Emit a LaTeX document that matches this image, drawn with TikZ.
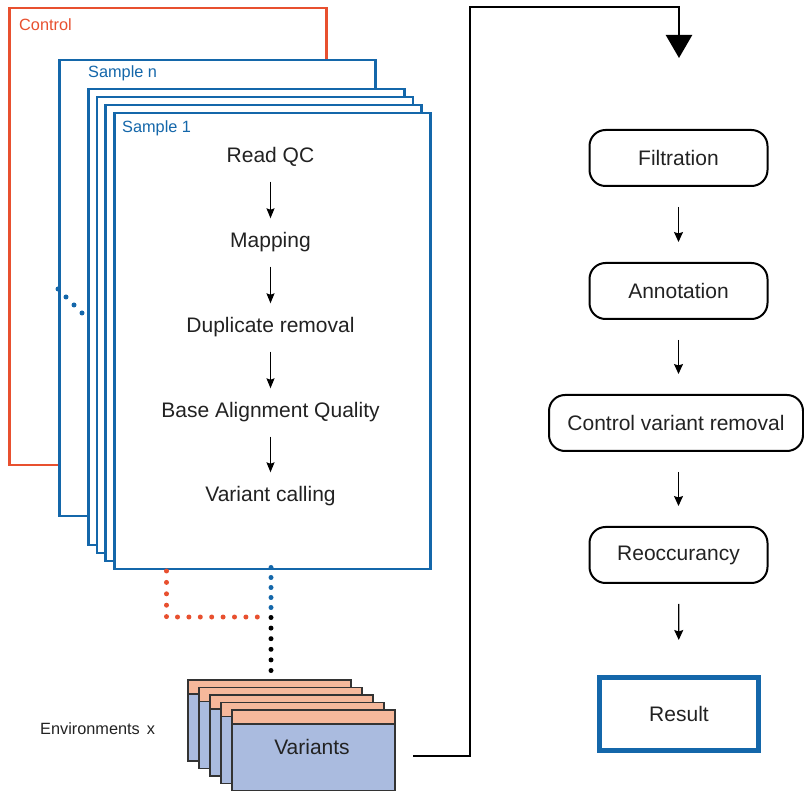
\documentclass[tikz,border=0pt]{standalone}
\usepackage{fontspec}
\setmainfont{Liberation Sans}
\usetikzlibrary{arrows.meta}
\definecolor{sblue}{HTML}{1467AA}
\definecolor{cred}{HTML}{E8502F}
\definecolor{salmon}{HTML}{F6B89B}
\definecolor{lav}{HTML}{AABBDF}
\definecolor{txt}{HTML}{222222}
\tikzset{
  bigfont/.style={font=\fontsize{21}{24}\selectfont, text=txt},
  smallfont/.style={font=\fontsize{16.3}{19}\selectfont},
  samplebox/.style={draw=sblue, line width=2.5pt, fill=white, minimum width=316pt, minimum height=456pt, anchor=north west, inner sep=0pt},
  controlbox/.style={draw=cred, line width=2.5pt, fill=white, minimum width=317pt, minimum height=457pt, anchor=north west, inner sep=0pt},
  steptext/.style={bigfont, inner sep=0pt, text height=15pt, text depth=4pt},
  smallarrow/.style={-{Stealth[width=8pt,length=10pt,inset=1.5pt]}, line width=1.3pt, black, shorten <=15pt, shorten >=14pt},
  flowbox/.style={bigfont, draw=black, line width=2pt, rounded corners=16pt, minimum width=178pt, minimum height=56pt, inner sep=0pt},
  flowarrow/.style={-{Stealth[width=9pt,length=10pt,inset=1.5pt]}, line width=1.3pt, black, shorten <=20pt, shorten >=20pt},
  varhead/.style={draw=black!80, line width=1.5pt, fill=salmon, minimum width=163pt, minimum height=14pt, anchor=north west, inner sep=0pt},
  varbody/.style={draw=black!80, line width=1.5pt, fill=lav, minimum width=163pt, minimum height=67pt, anchor=north west, inner sep=0pt},
  dotline/.style={line width=5pt, line cap=round, dash pattern=on 0pt off #1},
  conn/.style={line width=2.5pt, black},
}
\begin{document}
\begin{tikzpicture}[x=1pt,y=-1pt]
\useasboundingbox (0,0) rectangle (804,791);
% control and sample stack
\node[controlbox] (control) at (8,7) {};
\node[text=cred, smallfont, anchor=west, inner sep=0pt] (controllbl) at (19,25) {Control};
\node[samplebox] (samplen) at (58,59) {};
\node[text=sblue, smallfont, anchor=west, inner sep=0pt] (samplenlbl) at (88,73) {Sample n};
\foreach \i/\x/\y in {1/87/88, 2/95.5/96, 3/104/104}
  \node[samplebox] (sm\i) at (\x,\y) {};
\node[samplebox] (sample1) at (113,112) {};
\node[text=sblue, smallfont, anchor=west, inner sep=0pt] (sample1lbl) at (122,128) {Sample 1};
% dots between sample n and the others
\foreach \k in {0,1,2,3}
  \fill[sblue] (58+8*\k,289+8*\k) circle (2.5pt);
% steps
\node[steptext] (rqc) at (270.5,157) {Read QC};
\node[steptext] (map) at (270.5,242) {Mapping};
\node[steptext] (dup) at (270.5,327) {Duplicate removal};
\node[steptext] (baq) at (270.5,412) {Base Alignment Quality};
\node[steptext] (vc) at (270.5,496) {Variant calling};
\draw[smallarrow] (rqc) -- (map);
\draw[smallarrow] (map) -- (dup);
\draw[smallarrow] (dup) -- (baq);
\draw[smallarrow] (baq) -- (vc);
% dotted connectors
\coordinate (rs) at (166.5,571);
\coordinate (re) at (260,617);
\coordinate (bs) at (271,567.5);
\coordinate (be) at (271,608);
\coordinate (ks) at (271,617.5);
\coordinate (ke) at (271,671);
\draw[cred, dotline=11.4pt] (rs) |- (re);
\draw[sblue, dotline=10pt] (bs) -- (be);
\draw[black, dotline=10.6pt] (ks) -- (ke);
% variants stack
\foreach \k in {0,1,2,3,4} {
  \node[varbody] (vb\k) at (187+11*\k,693+7.5*\k) {};
  \node[varhead] (vh\k) at (187+11*\k,679+7.5*\k) {};
}
\node[bigfont, inner sep=0pt] (vtext) at (312,747) {Variants};
\node[smallfont, text=txt, anchor=west, inner sep=0pt] (env) at (40,729) {Environments\hspace{7pt}x};
% big connector
\coordinate (cs) at (413,756);
\coordinate (cturn) at (470,7);
\coordinate (ce) at (679,58);
\draw[conn, -{Triangle[width=26pt,length=23pt]}] (cs) -| (cturn) -| (ce);
% right flow
\node[flowbox] (filt) at (678.5,158) {Filtration};
\node[flowbox] (annot) at (678.5,291) {Annotation};
\node[flowbox, minimum width=254pt] (cvr) at (676,423) {Control variant removal};
\node[flowbox] (reo) at (678.5,555) {Reoccurancy};
\node[bigfont, draw=sblue, line width=5pt, minimum width=159pt, minimum height=73pt, inner sep=0pt] (res) at (679,714) {Result};
\draw[flowarrow] (filt) -- (annot);
\draw[flowarrow] (annot.south) -- (annot.south |- cvr.north);
\draw[flowarrow] (reo.north |- cvr.south) -- (reo.north);
\draw[flowarrow, shorten >=35pt] (reo) -- (res);
\end{tikzpicture}
\end{document}
